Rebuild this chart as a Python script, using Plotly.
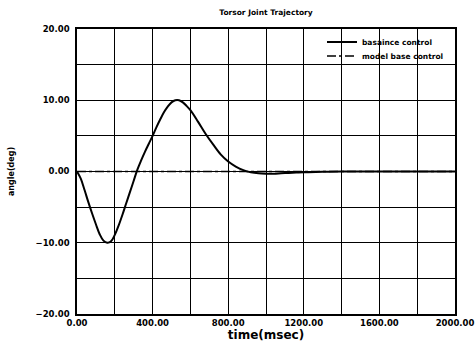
import plotly.graph_objects as go

time_ms = [0, 20, 40, 60, 80, 100, 120, 140, 160, 180, 200, 220, 240, 260, 280, 300,
           320, 340, 360, 380, 400, 420, 440, 460, 480, 500, 520, 540, 560, 580, 600,
           640, 680, 720, 760, 800, 840, 880, 920, 960, 1000, 1040, 1080, 1120, 1160,
           1200, 1300, 1400, 1600, 1800, 2000]
baseline = [0, -1.0, -2.6, -4.3, -5.9, -7.4, -8.8, -9.7, -10.0, -9.8, -8.9, -7.6, -6.1,
            -4.5, -2.9, -1.3, 0.3, 1.6, 2.8, 3.9, 5.0, 6.2, 7.3, 8.3, 9.1, 9.7, 10.0,
            10.0, 9.7, 9.2, 8.6, 7.0, 5.3, 3.8, 2.4, 1.4, 0.7, 0.2, -0.1, -0.25, -0.3,
            -0.3, -0.25, -0.2, -0.15, -0.1, -0.05, 0, 0, 0, 0]
model_time = [0, 2000]
model_base = [0, 0]

x_ticks = [0, 400, 800, 1200, 1600, 2000]
y_ticks = [-20, -10, 0, 10, 20]

font_family = "DejaVu Sans, Liberation Sans, sans-serif"
W, H = 475, 343

fig = go.Figure()
fig.add_trace(go.Scatter(x=time_ms, y=baseline, mode="lines", name="basaince control",
                         line=dict(color="black", width=2, shape="spline"), legend="legend"))
fig.add_trace(go.Scatter(x=model_time, y=model_base, mode="lines", name="model base control",
                         line=dict(color="black", width=1.5, dash="dashdot"), legend="legend2"))

axis_common = dict(showline=True, linecolor="black", linewidth=1.5, mirror=True,
                   showgrid=True, gridcolor="black", gridwidth=1.2, zeroline=False,
                   ticks="", tickformat=".2f", automargin=False,
                   tickfont=dict(family=font_family, size=8.5, color="black", weight="bold"))

fig.update_xaxes(range=[0, 2000], tickvals=x_ticks,
                 minor=dict(dtick=200, tick0=0, showgrid=True, gridcolor="black", gridwidth=1.2),
                 title=dict(text="time(msec)", standoff=0,
                            font=dict(family=font_family, size=12, color="black", weight="bold")),
                 **axis_common)
fig.update_yaxes(range=[-20, 20], tickvals=y_ticks, ticklabelstandoff=4,
                 minor=dict(dtick=5, tick0=0, showgrid=True, gridcolor="black", gridwidth=1.2),
                 title=dict(text="angle(deg)", standoff=20,
                            font=dict(family=font_family, size=8, color="black", weight="bold")),
                 **axis_common)

legend_common = dict(xref="container", yref="container", xanchor="left", yanchor="middle",
                     bgcolor="rgba(0,0,0,0)", borderwidth=0,
                     font=dict(family=font_family, size=7.5, color="black", weight="bold"))

fig.update_layout(
    width=W, height=H,
    margin=dict(l=77, r=20, t=29, b=29, autoexpand=False),
    paper_bgcolor="white", plot_bgcolor="white",
    title=dict(text="Torsor Joint Trajectory", x=0.56, xanchor="center", y=0.965, yanchor="middle",
               font=dict(family=font_family, size=7.5, color="black", weight="bold")),
    legend=dict(x=322 / W, y=1 - 42 / H, **legend_common),
    legend2=dict(x=322 / W, y=1 - 56 / H, **legend_common),
    showlegend=True,
)

fig.write_html("out.html", config={"displayModeBar": False},
               post_script="document.body.style.margin='0';document.body.style.overflow='hidden';")
